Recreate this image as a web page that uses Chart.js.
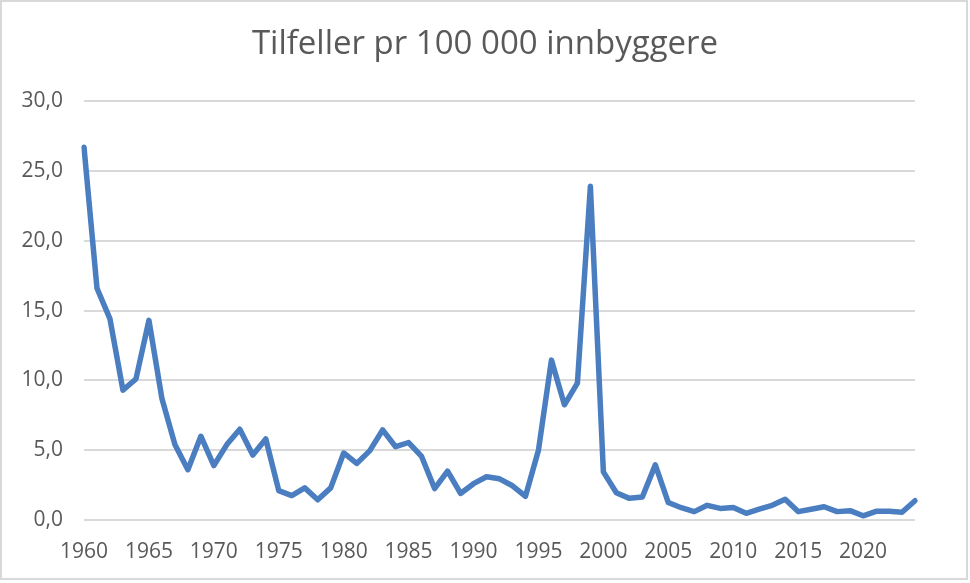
<!DOCTYPE html>
<html>
<head>
<meta charset="utf-8">
<script src="https://cdn.jsdelivr.net/npm/chart.js@4/dist/chart.umd.min.js"></script>
<style>
  html, body { margin: 0; padding: 0; background: #ffffff; }
  #wrap { position: relative; width: 970px; height: 583px; }
</style>
</head>
<body>
<div id="wrap"><canvas id="c" width="970" height="583"></canvas></div>
<script>
const chartTitle = "Tilfeller pr 100 000 innbyggere";
const years = [
  1960,1961,1962,1963,1964,1965,1966,1967,1968,1969,
  1970,1971,1972,1973,1974,1975,1976,1977,1978,1979,
  1980,1981,1982,1983,1984,1985,1986,1987,1988,1989,
  1990,1991,1992,1993,1994,1995,1996,1997,1998,1999,
  2000,2001,2002,2003,2004,2005,2006,2007,2008,2009,
  2010,2011,2012,2013,2014,2015,2016,2017,2018,2019,
  2020,2021,2022,2023,2024
];
const cases = [
  26.7,16.6,14.4,9.3,10.1,14.3,8.7,5.4,3.6,6.0,
  3.9,5.4,6.5,4.65,5.8,2.1,1.75,2.3,1.45,2.3,
  4.8,4.05,4.95,6.45,5.25,5.55,4.55,2.25,3.5,1.9,
  2.6,3.1,2.95,2.45,1.7,5.0,11.45,8.25,9.8,23.9,
  3.45,1.95,1.55,1.65,3.95,1.25,0.88,0.6,1.05,0.83,
  0.9,0.48,0.78,1.05,1.48,0.6,0.77,0.95,0.6,0.67,
  0.3,0.62,0.62,0.55,1.38
];
const yTicks = [0, 5, 10, 15, 20, 25, 30];

const borderPlugin = {
  id: 'outerBorder',
  beforeDraw(chart) {
    const ctx = chart.ctx;
    ctx.save();
    ctx.fillStyle = '#ffffff';
    ctx.fillRect(0, 0, chart.width, chart.height);
    ctx.restore();
  },
  afterDraw(chart) {
    const ctx = chart.ctx;
    ctx.save();
    ctx.strokeStyle = '#d9d9d9';
    ctx.lineWidth = 2;
    ctx.strokeRect(1, 1, 966, 578);
    ctx.restore();
  }
};

new Chart(document.getElementById('c'), {
  type: 'line',
  data: {
    labels: years.map(String),
    datasets: [{
      data: cases,
      borderColor: '#4A7EC0',
      borderWidth: 5.5,
      borderJoinStyle: 'round',
      borderCapStyle: 'round',
      pointRadius: 0,
      tension: 0,
      fill: false
    }]
  },
  options: {
    responsive: false,
    animation: false,
    devicePixelRatio: 1,
    layout: { padding: { left: 0, right: 0, top: 0, bottom: 0 } },
    plugins: {
      legend: { display: false },
      tooltip: { enabled: false },
      title: {
        display: true,
        text: chartTitle,
        color: '#595959',
        font: { family: 'Open Sans', size: 33, weight: 'normal', lineHeight: 1.2 },
        padding: { top: 25, bottom: 36.5 }
      }
    },
    scales: {
      x: {
        type: 'category',
        offset: false,
        grid: { display: false, drawTicks: false },
        border: { display: false },
        ticks: {
          autoSkip: false,
          maxRotation: 0,
          minRotation: 0,
          color: '#595959',
          font: { family: 'Open Sans', size: 21 },
          padding: 19,
          callback: function (val, idx) {
            const y = years[idx];
            return (y % 5 === 0) ? String(y) : null;
          }
        },
        afterFit(scale) { scale.height = 63; }
      },
      y: {
        min: 0,
        max: 30,
        afterBuildTicks(scale) { scale.ticks = yTicks.map(v => ({ value: v })); },
        grid: { color: '#d9d9d9', lineWidth: 2, drawTicks: false },
        border: { display: false },
        ticks: {
          color: '#595959',
          font: { family: 'Open Sans', size: 21 },
          padding: 21,
          callback: v => v.toFixed(1).replace('.', ',')
        },
        afterFit(scale) { scale.width = 84; }
      },
      ySpacer: {
        position: 'right',
        display: true,
        grid: { display: false, drawTicks: false },
        border: { display: false },
        ticks: { display: false },
        afterFit(scale) { scale.width = 55; }
      }
    }
  },
  plugins: [borderPlugin]
});
</script>
</body>
</html>
